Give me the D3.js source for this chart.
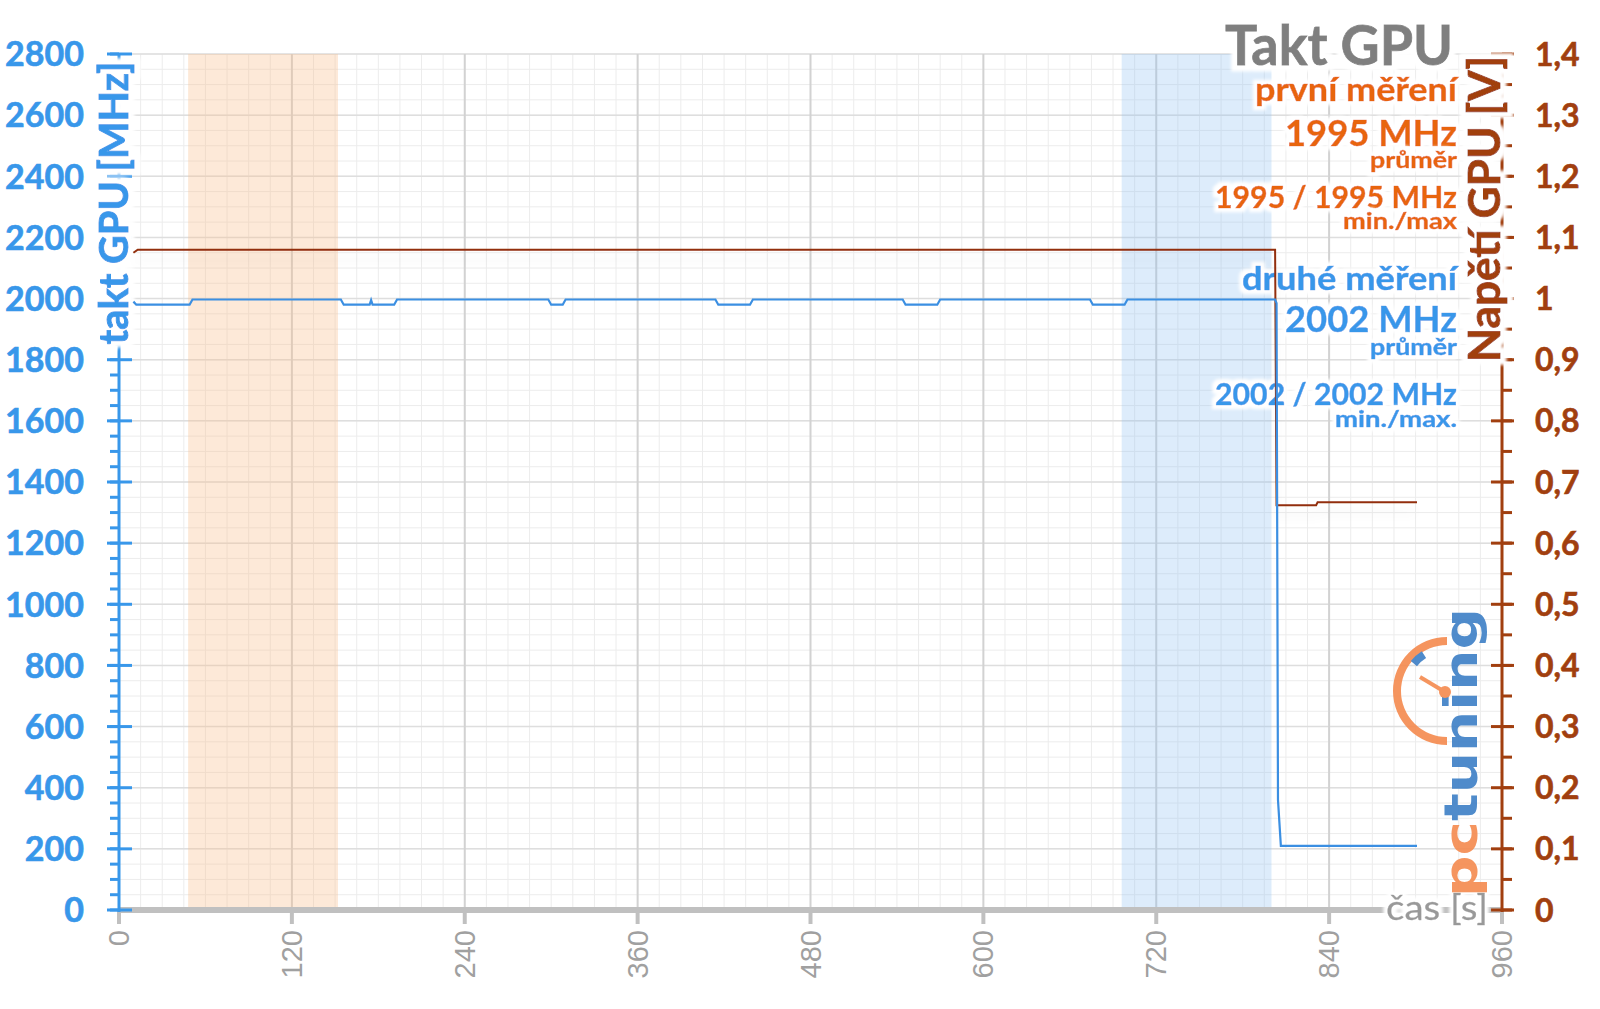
<!DOCTYPE html>
<html><head><meta charset="utf-8">
<script src="https://cdn.jsdelivr.net/npm/d3@7"></script>
<style>body{margin:0;background:#fff} svg{display:block}</style>
</head><body>
<svg id="c" width="1600" height="1009"></svg>
<script>
// ---------- data ----------
const clockTime = [10,12,49,51,154,156,174,175,176,191,193,298,300,308,310,414,416,438,440,544,546,568,570,674,676,698,700,802.5,803.5,804.5,806.5,901];
const clockMHz  = [1990,1980,1980,1997,1997,1980,1980,1995,1980,1980,1997,1997,1980,1980,1997,1997,1980,1980,1997,1997,1980,1980,1997,1997,1980,1980,1997,1997,1985,360,210,210];
const voltTime = [10,13,802.5,803.5,831,832,901];
const voltV    = [1.075,1.08,1.08,0.662,0.662,0.667,0.667];
const bandFirst = [48,152];
const bandSecond = [696,800];
const xTicks = [0,120,240,360,480,600,720,840,960];
const leftTicks = [0,200,400,600,800,1000,1200,1400,1600,1800,2000,2200,2400,2600,2800];
const rightTicks = [0,0.1,0.2,0.3,0.4,0.5,0.6,0.7,0.8,0.9,1,1.1,1.2,1.3,1.4];
const titleText = "Takt GPU";
const legendFirst = ["první měření","1995 MHz","průměr","1995 / 1995 MHz","min./max"];
const legendSecond = ["druhé měření","2002 MHz","průměr","2002 / 2002 MHz","min./max."];
const leftTitle = "takt GPU [MHz]";
const rightTitle = "Napětí GPU [V]";
const xTitle = "čas [s]";

// ---------- layout ----------
const L=119, R=1502, T=54, B=910;
const BLUE="#3897ea", ORANGE="#e8650e", BROWN="#a13f0f", GRAY="#a0a0a0";
const x = d3.scaleLinear().domain([0,960]).range([L,R]);
const yL = d3.scaleLinear().domain([0,2800]).range([B,T]);
const yR = d3.scaleLinear().domain([0,1.4]).range([B,T]);
const svg = d3.select("#c");
const FONT = "Lato, 'Open Sans', sans-serif";

const defs = svg.append("defs");
const f = defs.append("filter").attr("id","sh").attr("x","-5%").attr("y","-50%").attr("width","110%").attr("height","400%");
f.append("feGaussianBlur").attr("in","SourceAlpha").attr("stdDeviation",6).attr("result","b");
f.append("feOffset").attr("in","b").attr("dy",10).attr("result","o");
f.append("feComponentTransfer").attr("in","o").attr("result","t").append("feFuncA").attr("type","linear").attr("slope",0.09);
const m = f.append("feMerge"); m.append("feMergeNode").attr("in","t"); m.append("feMergeNode").attr("in","SourceGraphic");

function halo(id, r){
  const h = defs.append("filter").attr("id",id).attr("x","-20%").attr("y","-40%").attr("width","140%").attr("height","180%");
  h.append("feMorphology").attr("in","SourceAlpha").attr("operator","dilate").attr("radius",r).attr("result","d");
  h.append("feGaussianBlur").attr("in","d").attr("stdDeviation",1.5).attr("result","db");
  h.append("feFlood").attr("flood-color","#fff").attr("result","w");
  h.append("feComposite").attr("in","w").attr("in2","db").attr("operator","in").attr("result","halo");
  const mm = h.append("feMerge"); mm.append("feMergeNode").attr("in","halo"); mm.append("feMergeNode").attr("in","SourceGraphic");
}
halo("h4",4); halo("h6",6);

// grid
const g = svg.append("g");
g.selectAll(".vm").data(d3.range(0,961,15)).join("line")
  .attr("x1",d=>x(d)).attr("x2",d=>x(d)).attr("y1",T).attr("y2",B)
  .attr("stroke","#ececec").attr("stroke-width",1);
g.selectAll(".hm").data(d3.range(0,2801,50)).join("line").attr("class","hm")
  .attr("y1",d=>yL(d)).attr("y2",d=>yL(d)).attr("x1",L).attr("x2",R)
  .attr("stroke","#ececec").attr("stroke-width",1);
g.selectAll(".hM").data(leftTicks).join("line").attr("class","hM")
  .attr("y1",d=>yL(d)).attr("y2",d=>yL(d)).attr("x1",L).attr("x2",R)
  .attr("stroke","#dedede").attr("stroke-width",1.5);
g.selectAll(".vM").data(xTicks).join("line").attr("class","vM")
  .attr("x1",d=>x(d)).attr("x2",d=>x(d)).attr("y1",T).attr("y2",B)
  .attr("stroke","#d2d2d2").attr("stroke-width",2);

// bands
svg.append("rect").attr("x",x(bandFirst[0])).attr("width",x(bandFirst[1])-x(bandFirst[0]))
  .attr("y",T).attr("height",B-T).attr("fill","#f9c08f").attr("opacity",0.35);
svg.append("rect").attr("x",x(bandSecond[0])).attr("width",x(bandSecond[1])-x(bandSecond[0]))
  .attr("y",T).attr("height",B-T).attr("fill","#8fc0f3").attr("opacity",0.3);

// x axis baseline + ticks
svg.append("line").attr("x1",L).attr("x2",R).attr("y1",B).attr("y2",B).attr("stroke","#c0c0c0").attr("stroke-width",6);
svg.selectAll(".xt").data(xTicks).join("line").attr("class","xt")
  .attr("x1",d=>x(d)).attr("x2",d=>x(d)).attr("y1",B).attr("y2",B+14)
  .attr("stroke","#c0c0c0").attr("stroke-width",4);
svg.selectAll(".xl").data(xTicks).join("text").attr("class","xl")
  .attr("transform",d=>`translate(${x(d)+10},930) rotate(-90)`)
  .attr("text-anchor","end").attr("font-family","'Liberation Sans', Arial, sans-serif")
  .attr("font-size",29).attr("fill",GRAY).text(d=>d);

// left axis
svg.append("line").attr("x1",L).attr("x2",L).attr("y1",T).attr("y2",B+2).attr("stroke",BLUE).attr("stroke-width",3);
svg.selectAll(".lmt").data(d3.range(0,2801,50)).join("line").attr("class","lmt")
  .attr("x1",110).attr("x2",L).attr("y1",d=>yL(d)).attr("y2",d=>yL(d)).attr("stroke",BLUE).attr("stroke-width",3);
svg.selectAll(".lMt").data(leftTicks).join("line").attr("class","lMt")
  .attr("x1",107).attr("x2",132).attr("y1",d=>yL(d)).attr("y2",d=>yL(d)).attr("stroke",BLUE).attr("stroke-width",3);
svg.selectAll(".ll").data(leftTicks).join("text").attr("class","ll")
  .attr("x",84).attr("y",d=>yL(d)).attr("dy","0.36em").attr("text-anchor","end")
  .attr("font-family",FONT).attr("font-weight",700).attr("font-size",34).attr("fill",BLUE)
  .attr("stroke",BLUE).attr("stroke-width",0.6).text(d=>d);

// right axis
svg.append("line").attr("x1",R).attr("x2",R).attr("y1",T).attr("y2",B+2).attr("stroke",BROWN).attr("stroke-width",3);
svg.selectAll(".rmt").data(d3.range(0,29).map(i=>i*0.05)).join("line").attr("class","rmt")
  .attr("x1",R).attr("x2",1512).attr("y1",d=>yR(d)).attr("y2",d=>yR(d)).attr("stroke",BROWN).attr("stroke-width",3);
svg.selectAll(".rMt").data(rightTicks).join("line").attr("class","rMt")
  .attr("x1",1491).attr("x2",1514).attr("y1",d=>yR(d)).attr("y2",d=>yR(d)).attr("stroke",BROWN).attr("stroke-width",3);
svg.selectAll(".rl").data(rightTicks).join("text").attr("class","rl")
  .attr("x",1535).attr("y",d=>yR(d)).attr("dy","0.36em")
  .attr("font-family",FONT).attr("font-weight",700).attr("font-size",32).attr("fill",BROWN)
  .attr("stroke",BROWN).attr("stroke-width",0.6)
  .text(d=>(Math.round(d*10)/10).toString().replace(".",","));

// text with white halo (single element)
function haloText(attrs, s, color, filt, bold){
  const t = svg.append("text");
  Object.entries(attrs).forEach(([k,v])=>t.attr(k,v));
  return t.attr("fill",color).attr("stroke",color).attr("stroke-width",bold).attr("filter",`url(#${filt})`).text(s);
}

// axis titles
haloText({transform:"translate(128,203) rotate(-90)","text-anchor":"middle","font-family":FONT,"font-weight":700,"font-size":41,
  textLength:283,lengthAdjust:"spacingAndGlyphs"}, leftTitle, BLUE, "h6", 0.9);
haloText({transform:"translate(1500,209) rotate(-90)","text-anchor":"middle","font-family":FONT,"font-weight":700,"font-size":44,
  textLength:306,lengthAdjust:"spacingAndGlyphs"}, rightTitle, BROWN, "h6", 0.9);
haloText({x:1488,y:920,"text-anchor":"end","font-family":FONT,"font-size":34,
  textLength:102,lengthAdjust:"spacingAndGlyphs"}, xTitle, "#999", "h4", 0.3);

// logo
const logo = svg.append("g").attr("opacity",0.9);
const lt = logo.append("text").attr("transform","translate(1477,897) rotate(-90)")
  .attr("font-family","'DejaVu Sans', sans-serif").attr("font-weight",700).attr("font-size",46)
  .attr("textLength",289).attr("lengthAdjust","spacingAndGlyphs");
lt.append("tspan").attr("fill","#f58a4e").text("pc");
lt.append("tspan").attr("fill","#3d7fc6").text("tuning");
logo.append("path").attr("transform","translate(1447,691)")
  .attr("d",d3.arc()({innerRadius:46,outerRadius:54,startAngle:Math.PI,endAngle:2*Math.PI}))
  .attr("fill","#f58a4e");
logo.append("path").attr("transform","translate(1447,691)")
  .attr("d",d3.arc()({innerRadius:39,outerRadius:47,startAngle:Math.PI*1.72,endAngle:Math.PI*1.82}))
  .attr("fill","#3d7fc6");
logo.append("line").attr("x1",1420).attr("y1",677).attr("x2",1445).attr("y2",692).attr("stroke","#f58a4e").attr("stroke-width",4);
logo.append("circle").attr("cx",1445).attr("cy",692).attr("r",6).attr("fill","#f58a4e");

// legend texts
haloText({x:1453,y:65,"text-anchor":"end","font-family":FONT,"font-weight":700,"font-size":56,
  textLength:228,lengthAdjust:"spacingAndGlyphs"}, titleText, "#7f7f7f", "h6", 0.8);
const sizes=[32,37,22,31,22], lens1=[202,172,87,242,114], lens2=[215,172,87,242,122];
const ys1=[101,146,168,208,229], ys2=[290,332,355,405,427];
legendFirst.forEach((s,i)=>haloText({x:1457,y:ys1[i],"text-anchor":"end","font-family":FONT,"font-weight":700,"font-size":sizes[i],
  textLength:lens1[i],lengthAdjust:"spacingAndGlyphs"}, s, ORANGE, "h4", 0.5));
legendSecond.forEach((s,i)=>haloText({x:1457,y:ys2[i],"text-anchor":"end","font-family":FONT,"font-weight":700,"font-size":sizes[i],
  textLength:lens2[i],lengthAdjust:"spacingAndGlyphs"}, s, BLUE, "h4", 0.5));

// series lines
const voltLine = d3.line().x((d,i)=>x(voltTime[i])).y(d=>yR(d));
svg.append("path").attr("d",voltLine(voltV)).attr("fill","none").attr("stroke","#922f0b").attr("stroke-width",2).attr("filter","url(#sh)");
const clockLine = d3.line().x((d,i)=>x(clockTime[i])).y(d=>yL(d));
svg.append("path").attr("d",clockLine(clockMHz)).attr("fill","none").attr("stroke","#3b8fe2").attr("stroke-width",2.2);
</script>
</body></html>
